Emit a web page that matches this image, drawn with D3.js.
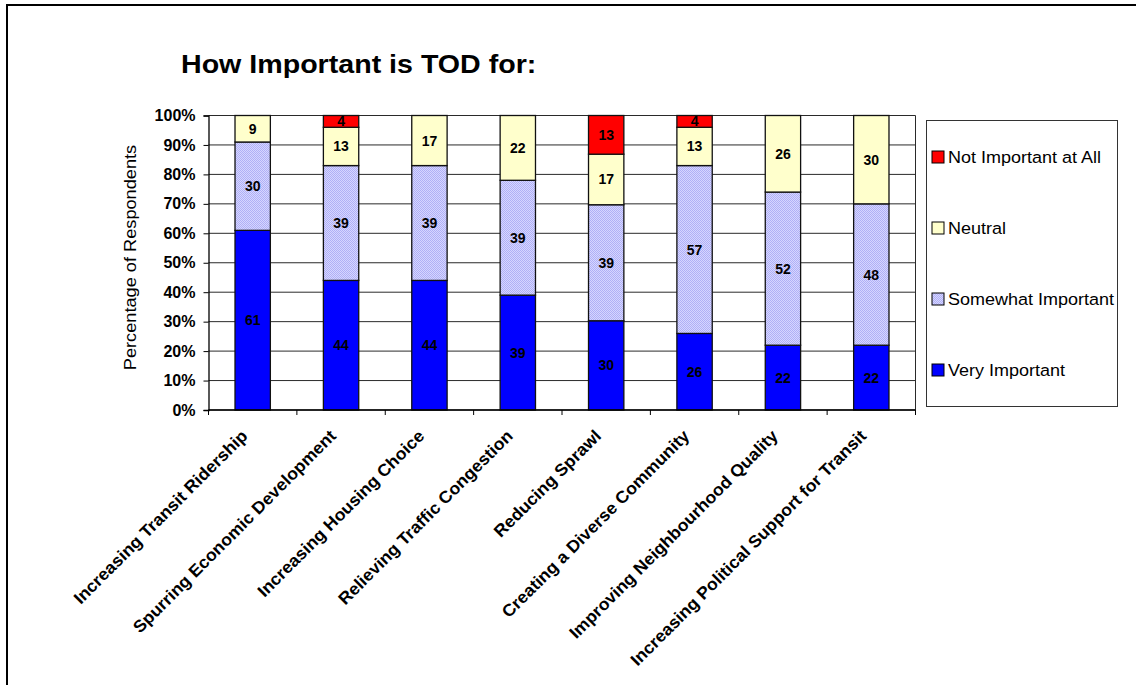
<!DOCTYPE html>
<html>
<head>
<meta charset="utf-8">
<script src="https://cdn.jsdelivr.net/npm/d3@7"></script>
<style>
  body { margin: 0; background: #fff; }
  svg { display: block; font-family: Arial, "Liberation Sans", sans-serif; }
</style>
</head>
<body>
<svg id="chart" width="1136" height="685"></svg>
<script>
// Survey: how important is Transit-Oriented Development for each goal (% of respondents)
const categories = [
  "Increasing Transit Ridership",
  "Spurring Economic Development",
  "Increasing Housing Choice",
  "Relieving Traffic Congestion",
  "Reducing Sprawl",
  "Creating a Diverse Community",
  "Improving Neighbourhood Quality",
  "Increasing Political Support for Transit"
];
const veryImportant     = [61, 44, 44, 39, 30, 26, 22, 22];
const somewhatImportant = [30, 39, 39, 39, 39, 57, 52, 48];
const neutral           = [9, 13, 17, 22, 17, 13, 26, 30];
const notImportant      = [0, 4, 0, 0, 13, 4, 0, 0];

const seriesKeys = ["Very Important", "Somewhat Important", "Neutral", "Not Important at All"];
const legendOrder = ["Not Important at All", "Neutral", "Somewhat Important", "Very Important"];
const yTickValues = [0, 0.1, 0.2, 0.3, 0.4, 0.5, 0.6, 0.7, 0.8, 0.9, 1.0];

const rows = categories.map((c, i) => ({
  category: c,
  "Very Important": veryImportant[i],
  "Somewhat Important": somewhatImportant[i],
  "Neutral": neutral[i],
  "Not Important at All": notImportant[i]
}));

const svg = d3.select("#chart");

// dithered lavender fill for "Somewhat Important"
const defs = svg.append("defs");
const pat = defs.append("pattern")
  .attr("id", "dither").attr("patternUnits", "userSpaceOnUse")
  .attr("width", 2).attr("height", 2);
pat.append("rect").attr("width", 2).attr("height", 2).attr("fill", "#d6d6ff");
pat.append("rect").attr("width", 1).attr("height", 1).attr("fill", "#b0b0f6");
pat.append("rect").attr("x", 1).attr("y", 1).attr("width", 1).attr("height", 1).attr("fill", "#b0b0f6");

const fills = {
  "Very Important": "#0000ff",
  "Somewhat Important": "url(#dither)",
  "Neutral": "#ffffcc",
  "Not Important at All": "#ff0000"
};

// outer chart frame
svg.append("rect")
  .attr("x", 7).attr("y", 5).attr("width", 1300).attr("height", 900)
  .attr("fill", "none").attr("stroke", "#000").attr("stroke-width", 2);

// title
svg.append("text")
  .attr("transform", "translate(181,73) scale(1.1,1)")
  .attr("font-size", 26).attr("font-weight", "bold")
  .text("How Important is TOD for:");

const plot = { left: 208.5, right: 915.5, top: 115.5, bottom: 410 };

const x = d3.scaleBand()
  .domain(categories)
  .range([plot.left, plot.right])
  .paddingInner(0.6)
  .paddingOuter(0.3);

const y = d3.scaleLinear().domain([0, 1]).range([plot.bottom, plot.top]);

// horizontal gridlines
svg.append("g")
  .selectAll("line")
  .data(yTickValues)
  .join("line")
  .attr("x1", plot.left).attr("x2", plot.right)
  .attr("y1", d => y(d)).attr("y2", d => y(d))
  .attr("stroke", "#2a2a2a").attr("stroke-width", 1);

// right edge of plot area
svg.append("line")
  .attr("x1", plot.right).attr("x2", plot.right)
  .attr("y1", plot.top).attr("y2", plot.bottom)
  .attr("stroke", "#2a2a2a").attr("stroke-width", 1);

// y axis
const yAxis = svg.append("g")
  .attr("transform", `translate(${plot.left},0)`)
  .call(d3.axisLeft(y).tickValues(yTickValues).tickFormat(d3.format(".0%")).tickSize(5).tickPadding(8));
yAxis.select(".domain").attr("stroke", "#000").attr("stroke-width", 1.3);
yAxis.selectAll(".tick line").attr("stroke", "#000");
yAxis.selectAll(".tick text")
  .attr("font-size", 16).attr("font-weight", "bold")
  .attr("font-family", "Arial, 'Liberation Sans', sans-serif")
  .attr("fill", "#000");

// y axis title
svg.append("text")
  .attr("transform", "translate(135.5,257.5) rotate(-90) scale(1.07,1)")
  .attr("text-anchor", "middle")
  .attr("font-size", 17)
  .text("Percentage of Respondents");

// stacked, normalised to 100%
const stacked = d3.stack().keys(seriesKeys).offset(d3.stackOffsetExpand)(rows);

const layers = svg.append("g").selectAll("g")
  .data(stacked)
  .join("g")
  .attr("fill", d => fills[d.key]);

layers.selectAll("rect")
  .data(d => d.filter(s => s.data[d.key] > 0))
  .join("rect")
  .attr("x", d => x(d.data.category))
  .attr("width", x.bandwidth())
  .attr("y", d => y(d[1]))
  .attr("height", d => y(d[0]) - y(d[1]))
  .attr("stroke", "#111")
  .attr("stroke-width", 1.3);

// value labels in each segment
const labels = svg.append("g");
stacked.forEach(layer => {
  layer.forEach(seg => {
    const v = seg.data[layer.key];
    if (v <= 0) return;
    labels.append("text")
      .attr("x", x(seg.data.category) + x.bandwidth() / 2)
      .attr("y", y((seg[0] + seg[1]) / 2))
      .attr("dy", "0.36em")
      .attr("text-anchor", "middle")
      .attr("font-size", 14).attr("font-weight", "bold")
      .attr("fill", "#000")
      .text(v);
  });
});

// x axis line and ticks at category boundaries
svg.append("line")
  .attr("x1", plot.left).attr("x2", plot.right)
  .attr("y1", plot.bottom).attr("y2", plot.bottom)
  .attr("stroke", "#000").attr("stroke-width", 1.3);

const gap = (x.step() - x.bandwidth()) / 2;
const boundaries = categories.map(c => x(c) - gap).concat([plot.right]);
svg.append("g").selectAll("line")
  .data(boundaries)
  .join("line")
  .attr("x1", d => d).attr("x2", d => d)
  .attr("y1", plot.bottom).attr("y2", plot.bottom + 5)
  .attr("stroke", "#000");

// rotated category labels
svg.append("g").selectAll("text")
  .data(categories)
  .join("text")
  .attr("transform", d => `translate(${x(d) + x.bandwidth() / 2 - 4},437) rotate(-45) scale(1.04,1)`)
  .attr("text-anchor", "end")
  .attr("font-size", 17).attr("font-weight", "bold")
  .text(d => d);

// legend
const legend = svg.append("g");
legend.append("rect")
  .attr("x", 926.5).attr("y", 120.5).attr("width", 191).attr("height", 286)
  .attr("fill", "#fff").attr("stroke", "#333").attr("stroke-width", 1);

const legendY = d3.scalePoint().domain(legendOrder).range([157, 370]);
const item = legend.selectAll("g.item")
  .data(legendOrder)
  .join("g")
  .attr("class", "item")
  .attr("transform", d => `translate(932,${legendY(d)})`);
item.append("rect")
  .attr("x", 0).attr("y", -6).attr("width", 12).attr("height", 12)
  .attr("fill", d => fills[d]).attr("stroke", "#000").attr("stroke-width", 1);
item.append("text")
  .attr("transform", "translate(16,0) scale(1.06,1)")
  .attr("dy", "0.36em")
  .attr("font-size", 17)
  .text(d => d);
</script>
</body>
</html>
